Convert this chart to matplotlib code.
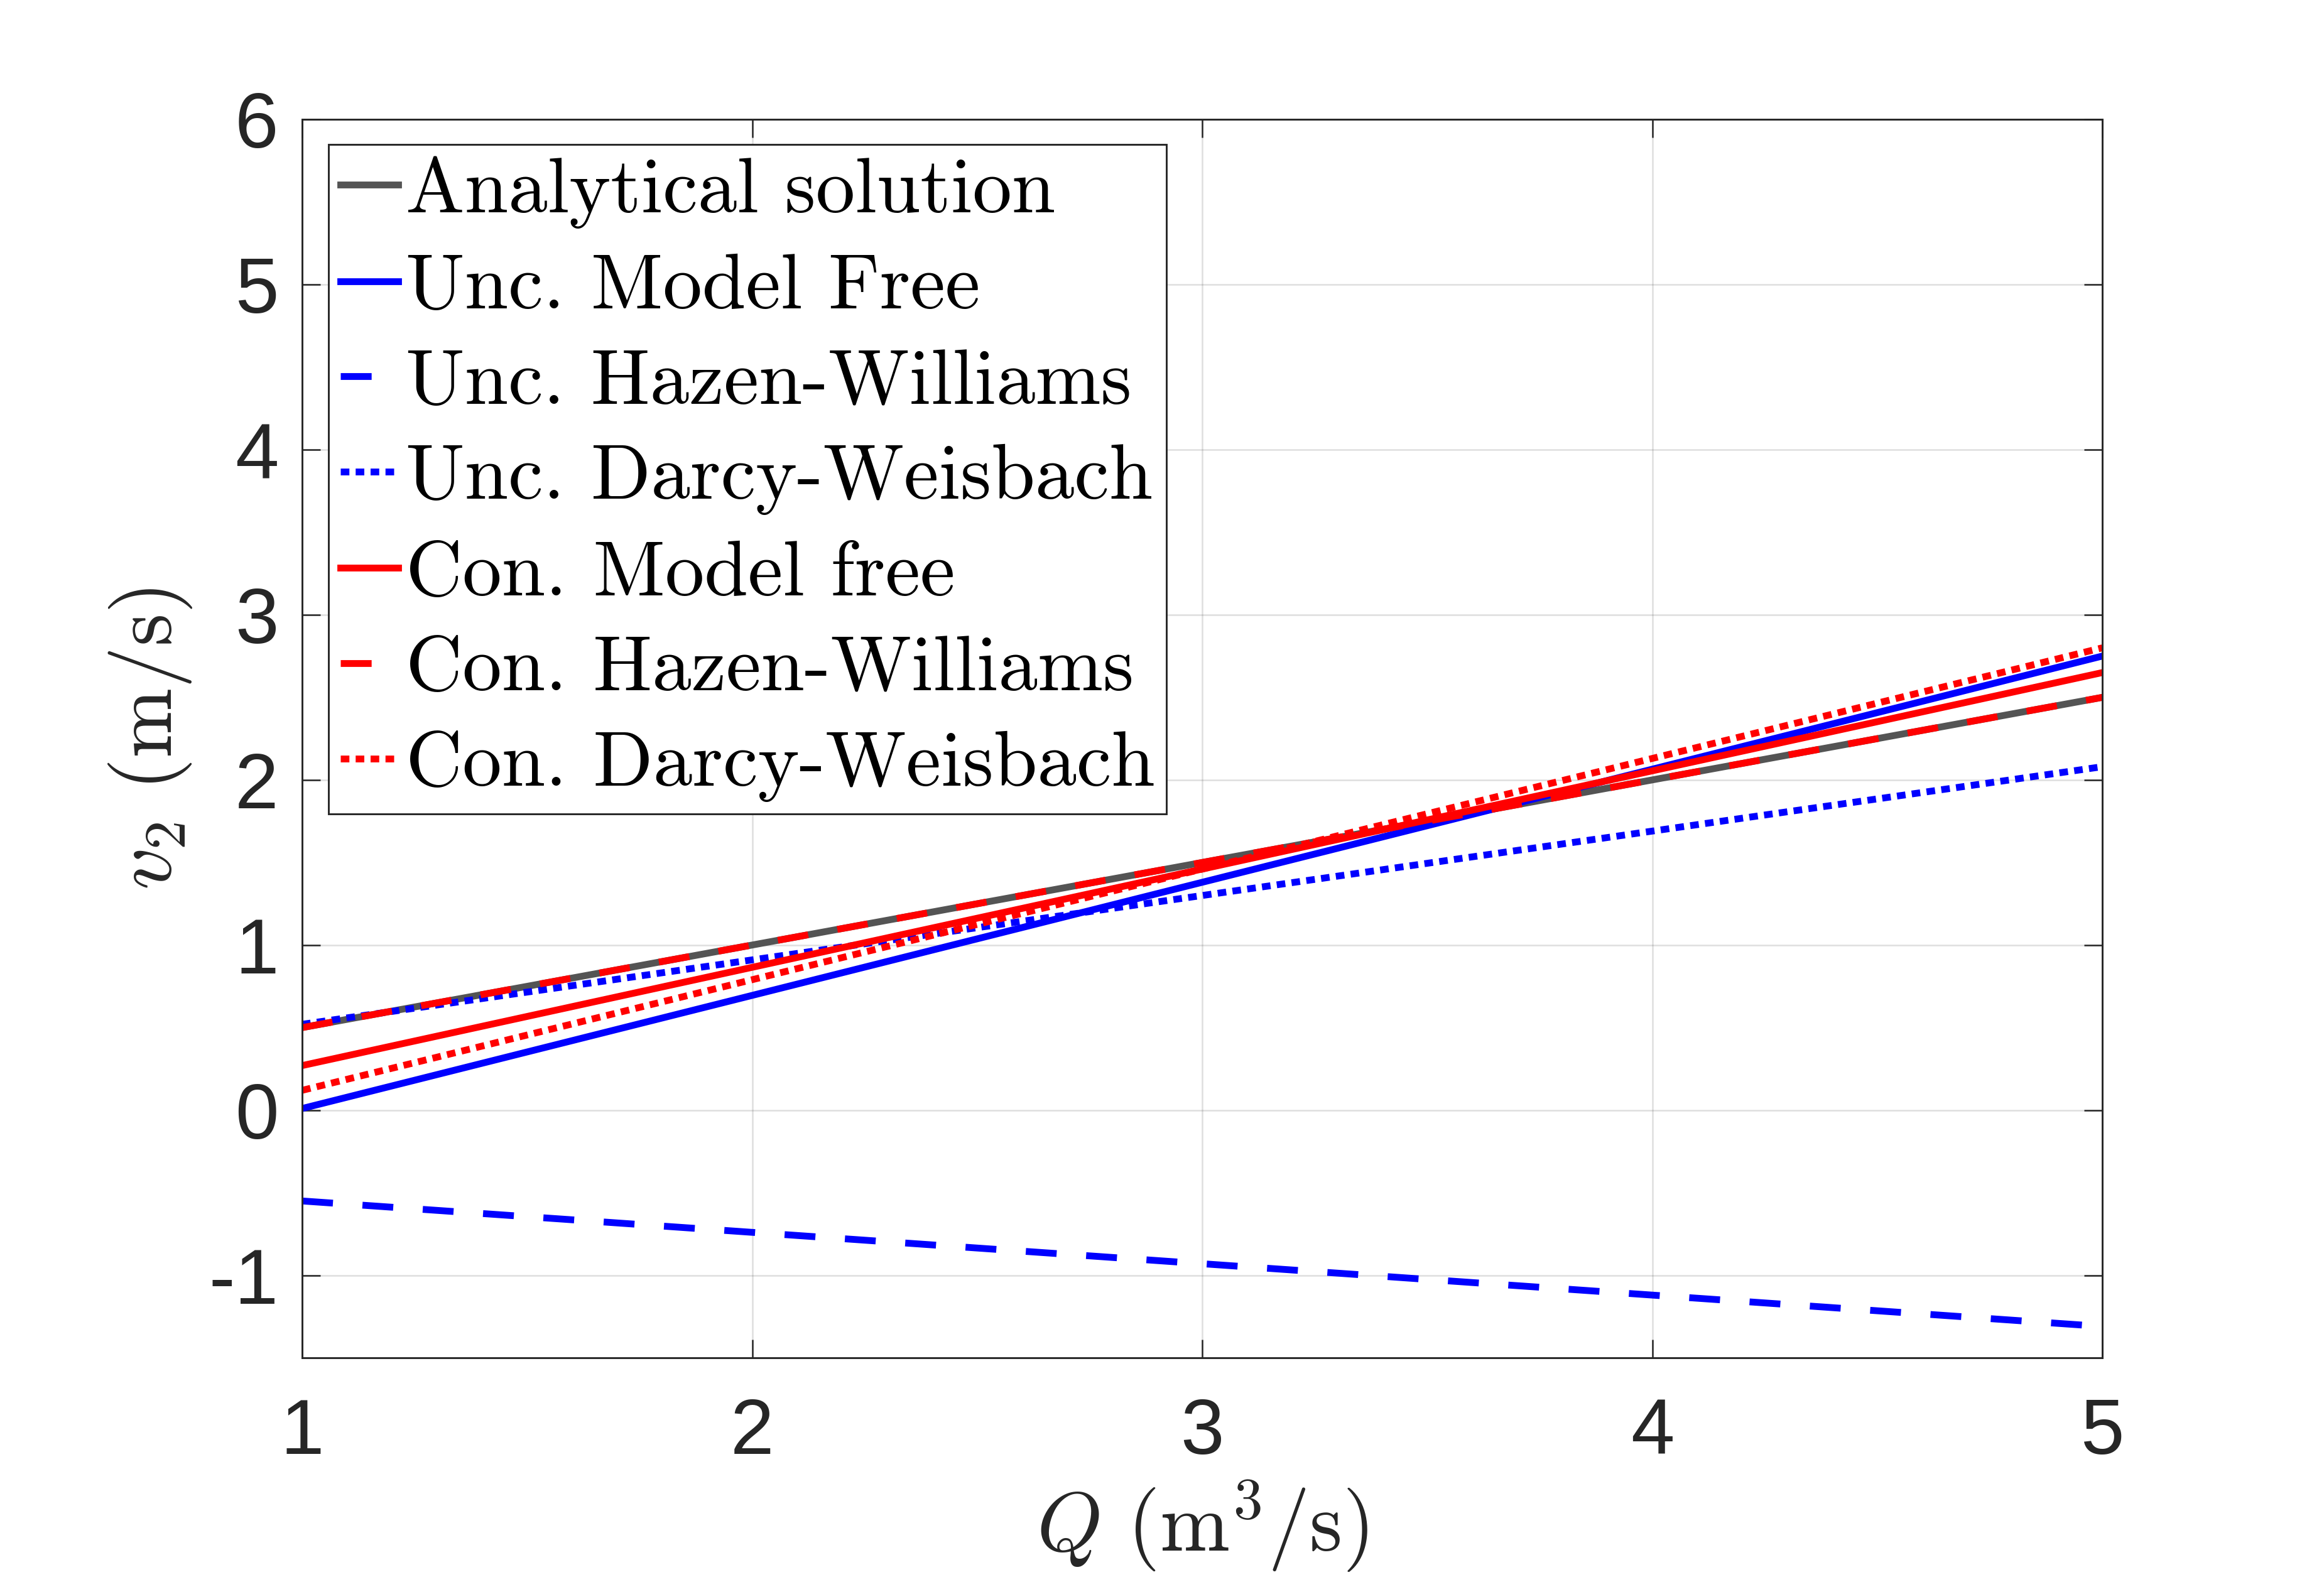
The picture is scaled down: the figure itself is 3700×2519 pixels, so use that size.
import matplotlib.pyplot as plt

plt.rcParams['mathtext.fontset'] = 'cm'
plt.rcParams['axes.unicode_minus'] = False
plt.rcParams['lines.scale_dashes'] = False

# flow rate Q (m^3/s) and outlet velocity v2 (m/s)
Q = [1, 2, 3, 4, 5]
analytical = [0.50, 1.00, 1.50, 2.00, 2.50]
unc_model_free = [0.01, 0.695, 1.38, 2.065, 2.75]
unc_hazen = [-0.55, -0.74, -0.93, -1.12, -1.31]
unc_darcy = [0.52, 0.91, 1.30, 1.69, 2.08]
con_model_free = [0.27, 0.865, 1.46, 2.055, 2.65]
con_hazen = [0.50, 1.00, 1.50, 2.00, 2.50]
con_darcy = [0.12, 0.79, 1.46, 2.13, 2.80]

labels = ['Analytical solution',
          'Unc. Model Free',
          'Unc. Hazen-Williams',
          'Unc. Darcy-Weisbach',
          'Con. Model free',
          'Con. Hazen-Williams',
          'Con. Darcy-Weisbach']

xticks = [1, 2, 3, 4, 5]
yticks = [-1, 0, 1, 2, 3, 4, 5, 6]

dark = (0.15, 0.15, 0.15)
gray = (0.33, 0.33, 0.33)
lw = 2.6
dashed = (0, (11.8, 11.3))
dotted = (0, (3.3, 2.4))

fig = plt.figure(figsize=(3700 / 300, 2519 / 300), dpi=300)
ax = fig.add_axes([0.130, 0.1417, 0.7746, 0.7828])

ax.plot(Q, analytical, color=gray, lw=lw, linestyle='-', label=labels[0])
ax.plot(Q, unc_model_free, color='blue', lw=lw, linestyle='-', label=labels[1])
ax.plot(Q, unc_hazen, color='blue', lw=lw, linestyle=dashed, label=labels[2])
ax.plot(Q, unc_darcy, color='blue', lw=lw, linestyle=dotted, label=labels[3])
ax.plot(Q, con_model_free, color='red', lw=lw, linestyle='-', label=labels[4])
ax.plot(Q, con_hazen, color='red', lw=lw, linestyle=dashed, label=labels[5])
ax.plot(Q, con_darcy, color='red', lw=lw, linestyle=dotted, label=labels[6])

ax.set_xlim(1, 5)
ax.set_ylim(-1.5, 6)
ax.set_xticks(xticks)
ax.set_yticks(yticks)
ax.grid(True, color=dark, alpha=0.15, linewidth=0.6)
ax.set_axisbelow(True)

for s in ax.spines.values():
    s.set_color(dark)
    s.set_linewidth(0.7)

ax.tick_params(direction='in', length=7, width=0.6, color=dark,
               top=True, right=True, labelsize=30, labelcolor=dark)
ax.tick_params(axis='x', pad=15)
ax.tick_params(axis='y', pad=9)
for t in ax.get_xticklabels() + ax.get_yticklabels():
    t.set_fontfamily('Liberation Sans')

# axis labels placed by their baselines
ax.set_xlabel(r'$Q\ (\mathrm{m}^3/\mathrm{s})$', fontsize=32, color=dark)
ax.xaxis.label.set_verticalalignment('baseline')
ax.xaxis.set_label_coords(0.5, -0.1562)
ax.set_ylabel(r'$v_2\ (\mathrm{m/s})$', fontsize=32, color=dark)
ax.yaxis.label.set_rotation_mode('anchor')
ax.yaxis.label.set_verticalalignment('baseline')
ax.yaxis.label.set_horizontalalignment('center')
ax.yaxis.set_label_coords(-0.0726, 0.5)

leg = ax.legend(loc='upper left', bbox_to_anchor=(0.0147, 0.980), borderaxespad=0,
                prop={'family': 'cmr10', 'size': 30}, handlelength=0.74,
                handletextpad=0.09, borderpad=0.15, labelspacing=0.32,
                fancybox=False, framealpha=1)
leg.get_frame().set_edgecolor(dark)
leg.get_frame().set_linewidth(0.7)

fig.savefig('out.png', dpi=300)
